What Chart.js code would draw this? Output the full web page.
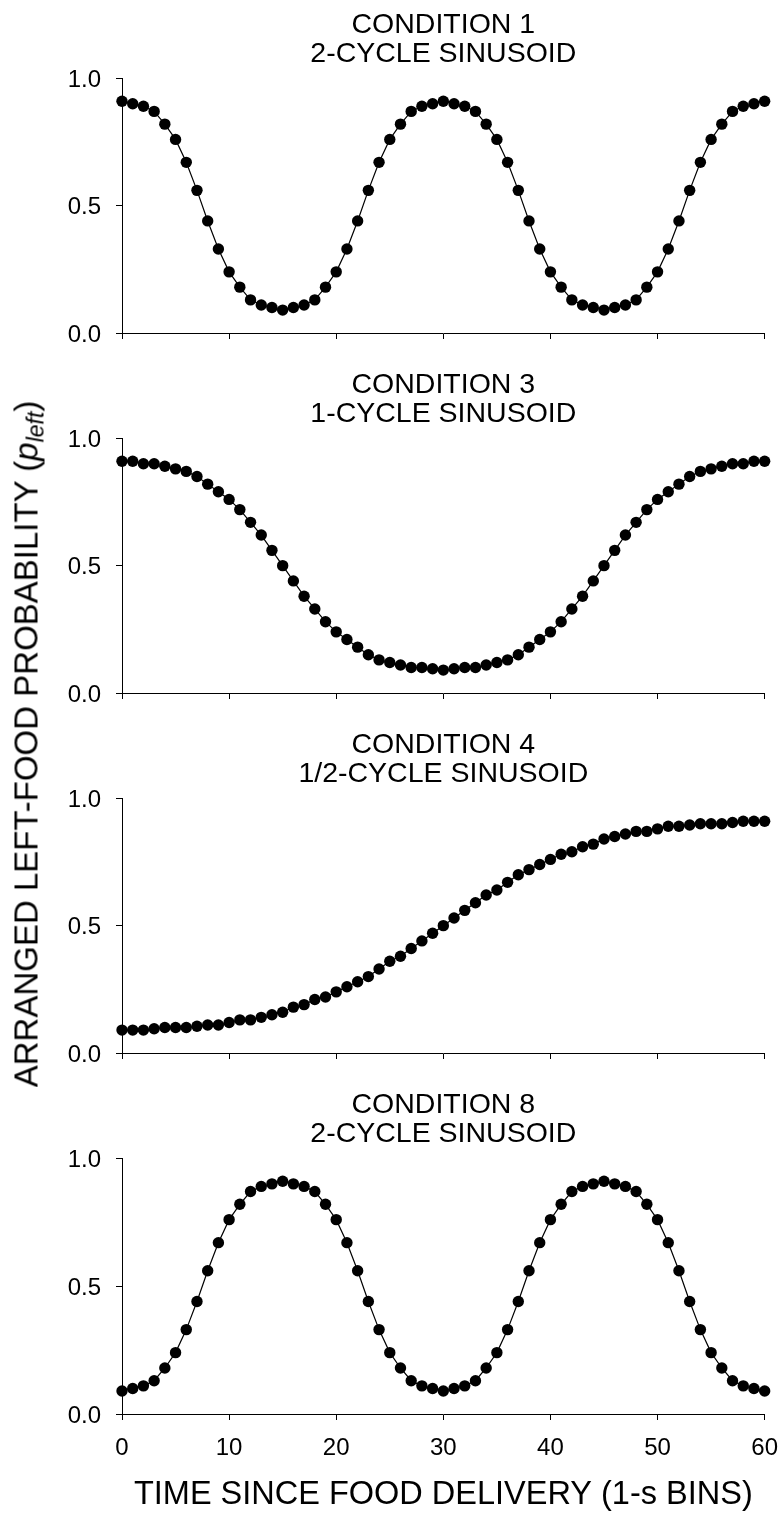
<!DOCTYPE html>
<html>
<head>
<meta charset="utf-8">
<script src="https://cdn.jsdelivr.net/npm/chart.js@4"></script>
<style>
  html, body { margin: 0; padding: 0; background: #fff; overflow: hidden; }
  #wrap { position: relative; width: 781px; height: 1514px; overflow: hidden; background: #fff; }
  canvas { position: absolute; left: 0; }
  #ylab {
    position: absolute; left: 26px; top: 744px;
    transform: translate(-50%, -50%) rotate(-90deg);
    white-space: nowrap; font-family: "Liberation Sans", Arial, sans-serif;
    font-size: 33px; line-height: 1; color: #000;
  }
  #ylab sub { font-size: 70%; vertical-align: -0.25em; line-height: 0; }
</style>
</head>
<body>
<div id="wrap">
  <canvas id="c0" width="794" height="360" style="top:0px"></canvas>
  <canvas id="c1" width="794" height="360" style="top:360px"></canvas>
  <canvas id="c2" width="794" height="360" style="top:720px"></canvas>
  <canvas id="c3" width="794" height="434" style="top:1080px"></canvas>
  <div id="ylab">ARRANGED LEFT-FOOD PROBABILITY (<i>p<sub>left</sub></i>)</div>
</div>
<script>
// ---- data ----
const TIME_BINS = [0,1,2,3,4,5,6,7,8,9,10,11,12,13,14,15,16,17,18,19,20,21,22,23,24,25,26,27,28,29,30,
  31,32,33,34,35,36,37,38,39,40,41,42,43,44,45,46,47,48,49,50,51,52,53,54,55,56,57,58,59,60];

const COND1_2CYCLE = [
  0.91,0.90,0.89,0.87,0.82,0.76,0.67,0.56,0.44,0.33,
  0.24,0.18,0.13,0.11,0.10,0.09,0.10,0.11,0.13,0.18,
  0.24,0.33,0.44,0.56,0.67,0.76,0.82,0.87,0.89,0.90,
  0.91,0.90,0.89,0.87,0.82,0.76,0.67,0.56,0.44,0.33,
  0.24,0.18,0.13,0.11,0.10,0.09,0.10,0.11,0.13,0.18,
  0.24,0.33,0.44,0.56,0.67,0.76,0.82,0.87,0.89,0.90,
  0.91];

const COND3_1CYCLE = [
  0.91,0.91,0.90,0.90,0.89,0.88,0.87,0.85,0.82,0.79,
  0.76,0.72,0.67,0.62,0.56,0.50,0.44,0.38,0.33,0.28,
  0.24,0.21,0.18,0.15,0.13,0.12,0.11,0.10,0.10,0.095,
  0.09,0.095,0.10,0.10,0.11,0.12,0.13,0.15,0.18,0.21,
  0.24,0.28,0.33,0.38,0.44,0.50,0.56,0.62,0.67,0.72,
  0.76,0.79,0.82,0.85,0.87,0.88,0.89,0.90,0.90,0.91,
  0.91];

const COND4_HALFCYCLE = [
  0.09,0.09,0.09,0.095,0.10,0.10,0.10,0.105,0.11,0.11,
  0.12,0.13,0.13,0.14,0.15,0.16,0.18,0.19,0.21,0.22,
  0.24,0.26,0.28,0.30,0.33,0.36,0.38,0.41,0.44,0.47,
  0.50,0.53,0.56,0.59,0.62,0.64,0.67,0.70,0.72,0.74,
  0.76,0.78,0.79,0.81,0.82,0.84,0.85,0.86,0.87,0.87,
  0.88,0.89,0.89,0.895,0.90,0.90,0.90,0.905,0.91,0.91,
  0.91];

const COND8_2CYCLE = [
  0.09,0.10,0.11,0.13,0.18,0.24,0.33,0.44,0.56,0.67,
  0.76,0.82,0.87,0.89,0.90,0.91,0.90,0.89,0.87,0.82,
  0.76,0.67,0.56,0.44,0.33,0.24,0.18,0.13,0.11,0.10,
  0.09,0.10,0.11,0.13,0.18,0.24,0.33,0.44,0.56,0.67,
  0.76,0.82,0.87,0.89,0.90,0.91,0.90,0.89,0.87,0.82,
  0.76,0.67,0.56,0.44,0.33,0.24,0.18,0.13,0.11,0.10,
  0.09];

const PANEL_TITLES = [
  ['CONDITION 1', '2-CYCLE SINUSOID'],
  ['CONDITION 3', '1-CYCLE SINUSOID'],
  ['CONDITION 4', '1/2-CYCLE SINUSOID'],
  ['CONDITION 8', '2-CYCLE SINUSOID']
];
const X_TICK_LABELS = ['0','10','20','30','40','50','60'];
const Y_TICK_LABELS = ['0.0','0.5','1.0'];
const X_AXIS_TITLE = 'TIME SINCE FOOD DELIVERY (1-s BINS)';

// ---- charts ----
Chart.defaults.font.family = '"Liberation Sans", Arial, sans-serif';
Chart.defaults.color = '#000';

const SERIES = [COND1_2CYCLE, COND3_1CYCLE, COND4_HALFCYCLE, COND8_2CYCLE];

SERIES.forEach((vals, i) => {
  const last = i === SERIES.length - 1;
  const canvas = document.getElementById('c' + i);
  new Chart(canvas, {
    type: 'line',
    data: {
      datasets: [{
        data: TIME_BINS.map((t, k) => ({ x: t, y: vals[k] })),
        borderColor: '#000',
        borderWidth: 1.2,
        pointRadius: 5.7,
        pointBackgroundColor: '#000',
        pointBorderWidth: 0,
        pointHoverRadius: 5.7,
        tension: 0,
        clip: false
      }]
    },
    options: {
      responsive: false,
      animation: false,
      events: [],
      layout: { padding: { left: 0, right: 0, top: 0, bottom: 0 } },
      plugins: {
        legend: { display: false },
        tooltip: { enabled: false },
        title: {
          display: true,
          fullSize: false,
          text: PANEL_TITLES[i],
          color: '#000',
          font: { size: 28.5, weight: 'normal', lineHeight: 1.04 },
          padding: { top: 10, bottom: 9 }
        }
      },
      scales: {
        x: {
          type: 'linear',
          min: 0, max: 60,
          afterFit: (s) => { s.height = last ? 100 : 26; },
          afterBuildTicks: (s) => { s.ticks = X_TICK_LABELS.map(v => ({ value: Number(v) })); },
          ticks: {
            callback: (v) => String(v),
            color: last ? '#000' : 'rgba(0,0,0,0)',
            font: { size: 24, lineHeight: 1 },
            padding: 16,
            maxRotation: 0,
            autoSkip: false
          },
          grid: { drawOnChartArea: false, drawTicks: true, tickLength: 6, color: '#000', lineWidth: 1 },
          border: { display: true, color: '#000', width: 1 },
          title: {
            display: last,
            text: X_AXIS_TITLE,
            color: '#000',
            font: { size: 32.5, lineHeight: 1 },
            padding: { top: 0, bottom: 3 }
          }
        },
        y: {
          min: 0, max: 1,
          afterFit: (s) => { s.width = 122; },
          afterBuildTicks: (s) => { s.ticks = Y_TICK_LABELS.map(v => ({ value: Number(v) })); },
          ticks: {
            callback: (v) => Number(v).toFixed(1),
            font: { size: 24, lineHeight: 1 },
            padding: 15,
            labelOffset: 2
          },
          grid: { drawOnChartArea: false, drawTicks: true, tickLength: 6, color: '#000', lineWidth: 1 },
          border: { display: true, color: '#000', width: 1 }
        }
      }
    }
  });
});
</script>
</body>
</html>
